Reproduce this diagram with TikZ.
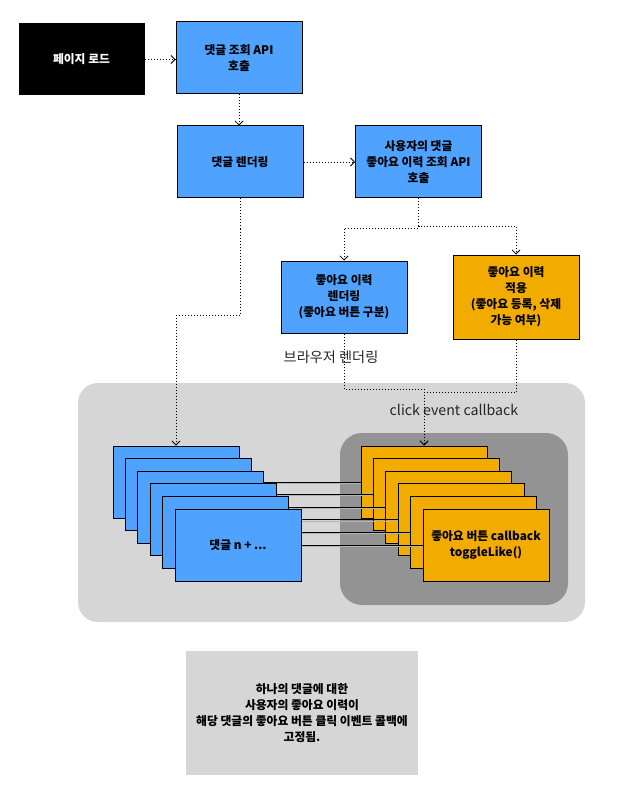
\documentclass[tikz,border=0pt]{standalone}
\usepackage{fontspec}
\setmainfont{Noto Sans CJK KR}
\usetikzlibrary{arrows.meta}
\definecolor{cblue}{HTML}{50A2FF}
\definecolor{corange}{HTML}{F2AC00}
\definecolor{lgrey}{HTML}{D6D6D6}
\definecolor{dgrey}{HTML}{939393}
\definecolor{notegrey}{HTML}{D6D6D6}
\tikzset{
  box/.style={draw=black, line width=1pt, fill=cblue, minimum width=126pt, minimum height=72pt,
    inner sep=0pt, align=center, font=\bfseries\fontsize{11.8}{16}\selectfont},
  obox/.style={box, fill=corange},
  darkbox/.style={box, fill=black, text=white, minimum width=125pt, minimum height=71pt},
  dotarrow/.style={line width=0.8pt, dash pattern=on 1pt off 2pt, -{Straight Barb[length=4pt,width=8pt]}},
  link/.style={line width=1pt, draw=black, preaction={draw=gray!60, line width=1pt, transform canvas={yshift=-1.2pt}}},
  lbl/.style={font=\fontsize{14.2}{16}\selectfont, text=black!85, inner sep=0pt},
  notebox/.style={fill=notegrey, minimum width=232pt, minimum height=124pt, inner sep=0pt,
    align=center, font=\bfseries\fontsize{11.8}{16}\selectfont},
}
\begin{document}
\begin{tikzpicture}[x=1pt,y=-1pt]
\useasboundingbox (0,0) rectangle (616,802);
\fill[white] (0,0) rectangle (616,802);

% top boxes
\node[darkbox] (pl) at (81.5,59.5) {페이지 로드};
\node[box] (b1) at (239,58) {댓글 조회 API\\호출};
\node[box] (b2) at (240,162) {댓글 렌더링};
\node[box] (b3) at (418.5,162) {사용자의 댓글\\좋아요 이력 조회 API\\호출};
\node[box] (b4) at (344,297) {좋아요 이력\\렌더링\\(좋아요 버튼 구분)};
\node[obox, minimum height=84pt] (b5) at (516,297) {좋아요 이력\\적용\\(좋아요 등록, 삭제\\가능 여부)};

\node[lbl] (lb1) at (331,357) {브라우저 렌더링};

% containers
\fill[lgrey, rounded corners=20pt] (78,383) rectangle (585,622);
\fill[dgrey, rounded corners=22pt] (340,433) rectangle (568,605);
\node[lbl] (lb2) at (454,410) {click event callback};

% stacked cards
\foreach \i in {0,...,5} {
  \pgfmathsetmacro{\cx}{176+12.4*\i}
  \pgfmathsetmacro{\ox}{424+12.4*\i}
  \pgfmathsetmacro{\cy}{482+12.6*\i}
  \ifnum\i=5
    \node[box] (c\i) at (\cx,\cy) {댓글 n + ...};
    \node[obox] (o\i) at (\ox,\cy) {좋아요 버튼 callback\\toggleLike()};
  \else
    \node[box] (c\i) at (\cx,\cy) {};
    \node[obox] (o\i) at (\ox,\cy) {};
  \fi
  \draw[link] (c\i.east) -- (o\i.west);
}

% note
\node[notebox] (note) at (302,713) {하나의 댓글에 대한\\사용자의 좋아요 이력이\\해당 댓글의 좋아요 버튼 클릭 이벤트 콜백에\\고정됨.};

% connectors
\draw[dotarrow] (pl.east) -- (pl.east -| b1.west);
\draw[dotarrow] (b1.south) -- (b1.south |- b2.north);
\draw[dotarrow] (b2.east) -- (b3.west);
\draw[dotarrow] (b3.south) -- (b3.south |- 0,228) -| (b4.north);
\draw[dotarrow] (b3.south) -- (b3.south |- 0,226) -| (b5.north);
\draw[dotarrow] (b2.south) -- (b2.south |- 0,315) -| (c0.north);
\draw[dotarrow] (b4.south) -- (b4.south |- 0,389) -| (o0.north);
\draw[dotarrow] (b5.south) -- (b5.south |- 0,392) -| (o0.north);
\end{tikzpicture}
\end{document}
